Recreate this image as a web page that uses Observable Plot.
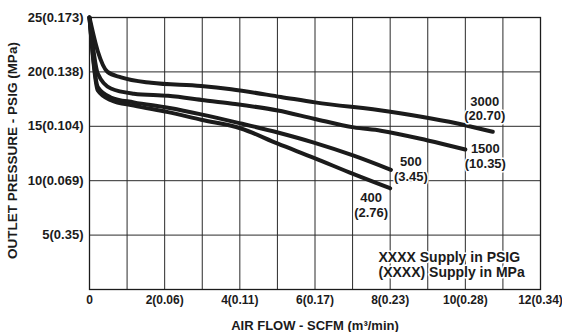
<!DOCTYPE html>
<html>
<head>
<meta charset="utf-8">
<script src="https://cdn.jsdelivr.net/npm/d3@7"></script>
<script src="https://cdn.jsdelivr.net/npm/@observablehq/plot@0.6"></script>
<style>
  html, body { margin: 0; padding: 0; background: #fff; }
  svg { display: block; }
</style>
</head>
<body>
<div id="chart"></div>
<script>
// ---- data ----
const seriesNames = ["3000", "1500", "500", "400"];
const seriesMPa = ["(20.70)", "(10.35)", "(3.45)", "(2.76)"];

const flow3000 = [0, 0.22, 0.48, 0.84, 1.64, 2.97, 3.77, 5.09, 6.0, 7.96, 10.0, 10.73];
const psi3000  = [25, 21.9, 20.0, 19.5, 19.0, 18.7, 18.4, 17.7, 17.2, 16.36, 15.1, 14.5];

const flow1500 = [0, 0.22, 0.57, 1.18, 2.09, 3.05, 3.76, 5.01, 5.97, 7.03, 7.75, 9.0, 10.0];
const psi1500  = [25, 19.85, 18.47, 18.0, 17.8, 17.4, 17.1, 16.45, 15.7, 14.9, 14.6, 13.7, 12.87];

const flow500 = [0, 0.22, 0.57, 1.18, 2.09, 2.97, 4.03, 5.01, 5.97, 7.03, 8.02];
const psi500  = [25, 18.6, 17.65, 17.2, 16.7, 16.1, 15.26, 14.43, 13.5, 12.3, 11.0];

const flow400 = [0, 0.22, 0.57, 1.18, 2.09, 2.97, 4.03, 5.01, 5.97, 7.03, 8.0];
const psi400  = [25, 18.3, 17.4, 16.9, 16.3, 15.6, 14.8, 13.4, 12.1, 10.6, 9.3];

const xTicks = [0, 2, 4, 6, 8, 10, 12];
const xTickLabels = ["0", "2(0.06)", "4(0.11)", "6(0.17)", "8(0.23)", "10(0.28)", "12(0.34)"];
const yTicks = [5, 10, 15, 20, 25];
const yTickLabels = ["5(0.35)", "10(0.069)", "15(0.104)", "20(0.138)", "25(0.173)"];
const xGrid = [1, 2, 3, 4, 5, 6, 7, 8, 9, 10, 11];
const yGrid = [5, 10, 15, 20];

const xLabel = "AIR FLOW - SCFM (m\u00b3/min)";
const yLabel = "OUTLET PRESSURE - PSIG (MPa)";
const legendLines = "XXXX Supply in PSIG\n(XXXX) Supply in MPa";

// ---- build table ----
const flows = [flow3000, flow1500, flow500, flow400];
const psis = [psi3000, psi1500, psi500, psi400];
const rows = seriesNames.flatMap((s, i) => flows[i].map((f, j) => ({series: s, flow: f, psi: psis[i][j]})));
const ends = seriesNames.map((s, i) => ({
  series: s,
  flow: flows[i][flows[i].length - 1],
  psi: psis[i][psis[i].length - 1],
  text: s + "\n" + seriesMPa[i]
}));

const xFmt = new Map(xTicks.map((t, i) => [t, xTickLabels[i]]));
const yFmt = new Map(yTicks.map((t, i) => [t, yTickLabels[i]]));

const ink = "#1b1b1b";
const font = "'Liberation Sans', Arial, Helvetica, sans-serif";

function endLabel(name, dx, dy) {
  return Plot.text(ends.filter(d => d.series === name), {
    x: "flow", y: "psi", text: "text", dx, dy,
    fontSize: 13, fontWeight: "bold", fill: ink, lineHeight: 1.1, lineAnchor: "middle",
    stroke: "white", strokeWidth: 3, paintOrder: "stroke"
  });
}

const chart = Plot.plot({
  width: 562,
  height: 332,
  marginLeft: 89,
  marginRight: 22,
  marginTop: 17,
  marginBottom: 43,
  style: {fontFamily: font, background: "white", color: ink},
  x: {domain: [0, 12]},
  y: {domain: [0, 25]},
  marks: [
    Plot.gridX(xGrid, {stroke: "#2a2a2a", strokeOpacity: 1, strokeWidth: 1}),
    Plot.gridY(yGrid, {stroke: "#2a2a2a", strokeOpacity: 1, strokeWidth: 1}),
    Plot.frame({stroke: ink, strokeWidth: 1.3}),
    Plot.axisX(xTicks, {
      tickSize: 0, tickPadding: 6, fontSize: 12, fontWeight: "bold",
      tickFormat: d => xFmt.get(d), label: null, fill: ink
    }),
    Plot.axisY(yTicks, {
      tickSize: 0, tickPadding: 6, fontSize: 13, fontWeight: "bold",
      tickFormat: d => yFmt.get(d), label: null, fill: ink
    }),
    Plot.text([xLabel], {frameAnchor: "bottom", dy: 36, lineAnchor: "middle", fontSize: 13, fontWeight: "bold", fill: ink}),
    Plot.text([yLabel], {frameAnchor: "left", textAnchor: "middle", lineAnchor: "middle", dx: -77, dy: -3, rotate: -90, fontSize: 13.5, fontWeight: "bold", fill: ink, letterSpacing: "1.5px"}),
    Plot.text([legendLines], {
      frameAnchor: "bottom-left", dx: 289, dy: -24.5, textAnchor: "start", lineAnchor: "middle",
      fontSize: 14, fontWeight: "bold", fill: ink, lineHeight: 1.08,
      stroke: "white", strokeWidth: 3, paintOrder: "stroke"
    }),
    Plot.line(rows, {x: "flow", y: "psi", z: "series", stroke: ink, strokeWidth: 4, curve: "monotone-x"}),
    endLabel("3000", -8, -23),
    endLabel("1500", 20, 6.5),
    endLabel("500", 20, -1),
    endLabel("400", -19, 16.5)
  ]
});

document.getElementById("chart").appendChild(chart);
</script>
</body>
</html>
